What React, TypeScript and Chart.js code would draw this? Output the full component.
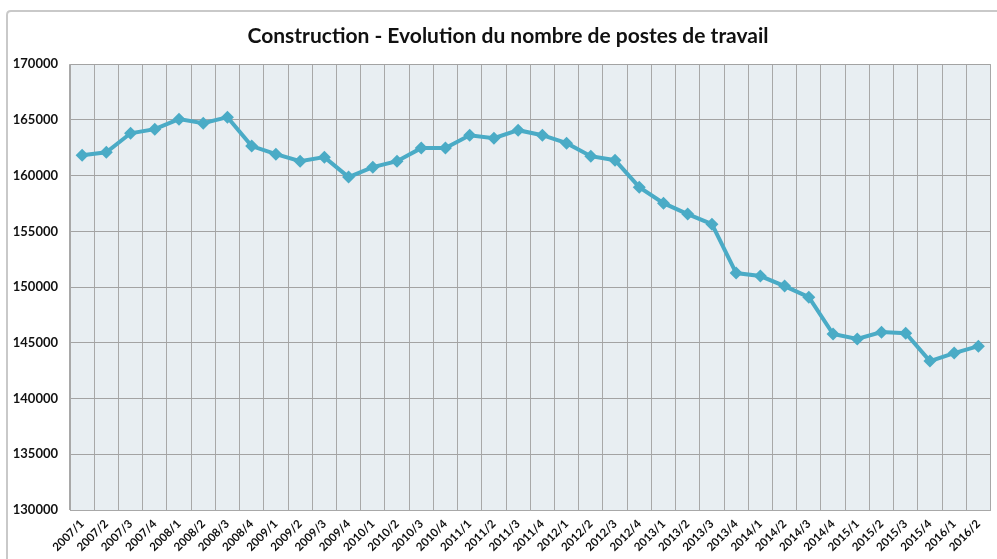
import React, { useEffect, useRef } from "react";
import { Chart, registerables } from "chart.js";

Chart.register(...registerables);

const categories = [
  "2007/1", "2007/2", "2007/3", "2007/4",
  "2008/1", "2008/2", "2008/3", "2008/4",
  "2009/1", "2009/2", "2009/3", "2009/4",
  "2010/1", "2010/2", "2010/3", "2010/4",
  "2011/1", "2011/2", "2011/3", "2011/4",
  "2012/1", "2012/2", "2012/3", "2012/4",
  "2013/1", "2013/2", "2013/3", "2013/4",
  "2014/1", "2014/2", "2014/3", "2014/4",
  "2015/1", "2015/2", "2015/3", "2015/4",
  "2016/1", "2016/2",
];

const postes = [
  161840, 162100, 163800, 164170,
  165070, 164700, 165250, 162650,
  161930, 161300, 161660, 159870,
  160760, 161300, 162470, 162470,
  163630, 163360, 164080, 163630,
  162910, 161750, 161390, 158970,
  157530, 156550, 155650, 151260,
  150990, 150090, 149100, 145790,
  145340, 145960, 145870, 143360,
  144080, 144700,
];

const titleText = "Construction - Evolution du nombre de postes de travail";
const yMin = 130000;
const yMax = 170000;
const yStep = 5000;

const frameAndBackground = {
  id: "frameAndBackground",
  beforeDraw(chart: any) {
    const { ctx, chartArea } = chart;
    ctx.save();
    ctx.fillStyle = "#e8eef2";
    ctx.fillRect(chartArea.left, chartArea.top, chartArea.right - chartArea.left, chartArea.bottom - chartArea.top);
    ctx.strokeStyle = "#c9c9c9";
    ctx.lineWidth = 2;
    ctx.beginPath();
    ctx.moveTo(7, 559);
    ctx.lineTo(7, 15);
    ctx.quadraticCurveTo(7, 11, 11, 11);
    ctx.lineTo(997, 11);
    ctx.stroke();
    ctx.restore();
  },
  afterDraw(chart: any) {
    const { ctx } = chart;
    ctx.save();
    ctx.fillStyle = "#111";
    ctx.font = "bold 21px Lato";
    ctx.textAlign = "center";
    ctx.textBaseline = "middle";
    ctx.fillText(titleText, 508, 36);
    ctx.restore();
  },
};

export default function App() {
  const ref = useRef<HTMLCanvasElement | null>(null);
  useEffect(() => {
    document.body.style.margin = "0";
    if (!ref.current) return;
    const chart = new Chart(ref.current, {
      type: "line",
      data: {
        labels: categories,
        datasets: [
          {
            label: "Postes de travail",
            data: postes,
            borderColor: "#4aabc6",
            backgroundColor: "#4aabc6",
            borderWidth: 4,
            pointStyle: "rectRot",
            pointRadius: 6.5,
            pointBorderWidth: 0,
            pointBackgroundColor: "#4aabc6",
            tension: 0,
          },
        ],
      },
      options: {
        animation: false,
        responsive: false,
        maintainAspectRatio: false,
        layout: { padding: { left: 0, right: 0, top: 0, bottom: 0 } },
        plugins: {
          legend: { display: false },
          tooltip: { enabled: false },
          title: {
            display: true,
            text: titleText,
            color: "rgba(0,0,0,0)",
            font: { family: "Lato", size: 21, weight: "bold", lineHeight: 1.2 },
            padding: { top: 23, bottom: 16 },
          },
        },
        scales: {
          x: {
            type: "category",
            offset: true,
            grid: { offset: true, color: "#a8a8a8", lineWidth: 1, drawTicks: false },
            border: { color: "#a8a8a8" },
            ticks: {
              autoSkip: false,
              minRotation: 45,
              maxRotation: 45,
              padding: 7,
              color: "#111",
              font: { family: "Lato", size: 11.5, weight: "bold" },
            },
            afterFit(scale: any) {
              scale.height = 49;
            },
          },
          y: {
            min: yMin,
            max: yMax,
            grid: { color: "#a3a3a3", lineWidth: 1, drawTicks: false },
            border: { color: "#a8a8a8" },
            ticks: {
              stepSize: yStep,
              padding: 12,
              color: "#111",
              font: { family: "Lato", size: 13, weight: "bold" },
              callback: (v: any) => String(v),
            },
            afterFit(scale: any) {
              scale.width = 70;
            },
          },
        },
      },
      plugins: [frameAndBackground],
    });
    return () => chart.destroy();
  }, []);
  return (
    <div style={{ width: 997, height: 559, background: "#fff" }}>
      <canvas ref={ref} width={997} height={559} style={{ display: "block", width: 997, height: 559 }} />
    </div>
  );
}
